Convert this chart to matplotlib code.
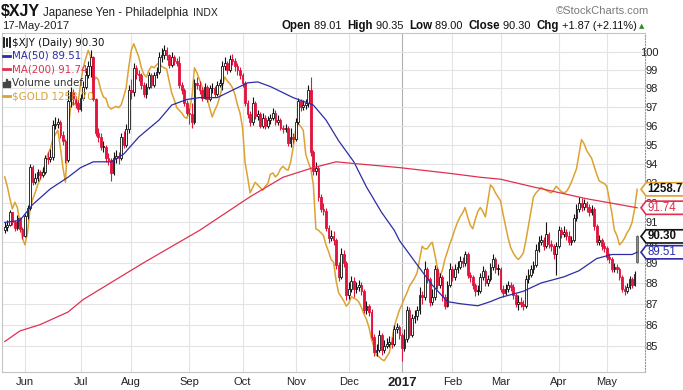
import numpy as np
import pandas as pd
import matplotlib
matplotlib.use("Agg")
import matplotlib.pyplot as plt
from matplotlib import font_manager
from matplotlib.patches import Polygon, Rectangle
from matplotlib.lines import Line2D
from matplotlib.ticker import FixedLocator, NullLocator

# ---- data -------------------------------------------------------------
holidays = ["2016-05-30", "2016-07-04", "2016-09-05", "2016-11-24", "2016-12-26",
            "2017-01-02", "2017-01-16", "2017-02-20", "2017-04-14"]
dates = pd.bdate_range("2016-05-19", "2017-05-17")
dates = dates[~dates.isin(pd.to_datetime(holidays))]

closes = [
    90.75, 90.85, 91.50, 91.00, 90.70, 91.20, 90.65, 90.30, 91.30, 91.75,
    93.85, 93.05, 93.25, 93.55, 93.40, 93.55, 94.30, 94.25, 94.35, 96.05,
    96.10, 96.20, 95.50, 95.20, 94.20, 97.30, 97.80, 97.40, 97.20, 96.90,
    97.50, 98.10, 98.70, 99.20, 99.70, 97.40, 95.60, 95.40, 94.90, 94.90,
    94.30, 94.20, 93.50, 94.30, 94.40, 94.30, 95.40, 95.00, 95.80, 97.90,
    97.80, 99.10, 98.80, 98.70, 98.20, 97.70, 98.10, 98.70, 98.20, 98.70,
    98.90, 99.70, 99.80, 100.10, 99.80, 99.30, 99.70, 99.50, 99.40, 98.20,
    97.90, 97.20, 96.70, 96.60, 96.20, 98.30, 98.20, 97.90, 97.50, 98.10,
    97.40, 98.00, 98.00, 97.70, 98.20, 98.30, 99.20, 99.40, 99.00, 99.60,
    99.50, 99.20, 99.00, 98.70, 98.30, 97.20, 96.60, 96.20, 97.20, 96.50,
    96.60, 96.00, 96.40, 96.00, 96.30, 96.40, 96.70, 96.20, 96.30, 95.90,
    95.80, 95.90, 95.10, 95.40, 95.30, 96.20, 97.30, 97.00, 97.10, 97.20,
    97.90, 94.60, 93.60, 93.80, 92.30, 91.70, 91.60, 90.70, 90.20, 90.30,
    90.10, 88.90, 88.30, 89.40, 89.00, 87.40, 87.70, 88.10, 87.70, 87.80,
    87.90, 87.60, 86.70, 86.90, 86.60, 85.40, 84.70, 84.80, 85.50, 84.80,
    85.00, 85.10, 85.20, 85.10, 85.80, 85.90, 85.50, 84.90, 85.30, 86.70,
    85.50, 86.30, 86.40, 86.70, 87.40, 87.30, 88.70, 88.20, 87.10, 87.30,
    88.70, 87.90, 88.30, 87.30, 86.90, 87.90, 88.70, 88.30, 88.70, 88.80,
    89.10, 89.00, 89.40, 88.40, 88.30, 87.90, 87.60, 87.60, 88.30, 88.60,
    88.00, 88.20, 88.80, 89.20, 88.70, 88.70, 87.70, 87.50, 87.70, 87.90,
    87.80, 87.40, 87.00, 87.10, 87.00, 86.90, 88.20, 88.40, 88.70, 88.90,
    89.60, 90.00, 90.10, 89.80, 90.40, 89.90, 89.80, 89.40, 89.80, 90.60,
    90.40, 90.50, 90.30, 90.00, 90.10, 91.20, 91.70, 92.00, 91.80, 92.00,
    91.80, 91.50, 91.70, 90.80, 90.00, 90.10, 89.80, 89.70, 89.30, 89.20,
    88.70, 88.80, 88.70, 88.30, 87.70, 87.60, 87.80, 88.20, 87.90, 88.43,
    90.30,
]
highs = [
    91.00, 91.10, 91.65, 91.55, 91.10, 91.35, 91.25, 90.75, 91.40, 91.90,
    94.00, 93.95, 93.50, 93.75, 93.70, 93.85, 94.45, 94.60, 94.75, 96.30,
    96.45, 96.40, 96.30, 95.70, 95.30, 97.90, 98.10, 97.95, 97.60, 97.35,
    97.70, 98.40, 99.10, 99.50, 100.10, 99.75, 97.50, 95.90, 95.60, 95.20,
    95.00, 94.55, 94.30, 94.60, 94.70, 94.60, 95.60, 95.70, 96.10, 98.20,
    98.50, 99.40, 99.30, 99.00, 98.85, 98.35, 98.30, 98.90, 98.85, 98.90,
    99.15, 100.00, 100.20, 100.40, 100.25, 99.90, 100.00, 99.85, 99.65, 99.75,
    98.35, 98.00, 97.35, 96.95, 97.20, 98.50, 98.60, 98.40, 98.05, 98.30,
    98.20, 98.20, 98.30, 98.15, 98.40, 98.50, 99.50, 99.70, 99.50, 99.80,
    99.90, 99.65, 99.40, 99.15, 98.85, 98.40, 97.35, 96.80, 97.55, 97.30,
    96.85, 96.75, 96.65, 96.55, 96.50, 96.60, 96.95, 96.85, 96.55, 96.40,
    96.05, 96.10, 96.00, 95.85, 95.60, 96.40, 97.50, 97.45, 97.35, 97.45,
    98.20, 98.60, 94.70, 94.10, 93.90, 92.45, 92.00, 91.75, 90.85, 90.60,
    90.55, 90.20, 89.05, 89.70, 89.60, 89.10, 88.05, 88.35, 88.30, 88.05,
    88.15, 88.05, 87.70, 87.15, 87.00, 86.75, 85.55, 85.10, 85.75, 85.60,
    85.25, 85.35, 85.45, 85.40, 86.00, 86.10, 86.00, 85.60, 85.80, 86.90,
    86.85, 86.50, 86.70, 86.90, 87.80, 87.60, 89.10, 88.80, 88.30, 87.70,
    88.90, 88.80, 88.50, 88.40, 87.45, 88.10, 89.00, 88.85, 88.95, 89.10,
    89.35, 89.30, 89.55, 89.50, 88.55, 88.40, 88.00, 87.90, 88.50, 88.85,
    88.70, 88.40, 89.00, 89.40, 89.30, 88.95, 88.80, 87.90, 87.95, 88.10,
    88.05, 87.95, 87.50, 87.40, 87.30, 87.20, 88.40, 88.70, 88.90, 89.10,
    89.90, 90.30, 90.35, 90.25, 91.00, 90.50, 90.10, 89.90, 90.00, 90.80,
    90.75, 90.80, 90.65, 90.55, 90.30, 91.40, 91.95, 92.30, 92.25, 92.20,
    92.10, 91.95, 91.90, 91.80, 90.90, 90.35, 90.20, 90.00, 89.80, 89.45,
    89.30, 89.00, 88.95, 88.80, 88.40, 87.90, 88.00, 88.35, 88.30, 88.60,
    90.35,
]
lows = [
    90.45, 90.55, 90.80, 90.85, 90.55, 90.60, 90.50, 90.15, 90.25, 91.15,
    91.65, 92.90, 92.95, 93.10, 93.20, 93.30, 93.45, 94.00, 94.10, 94.20,
    95.80, 95.85, 95.35, 95.00, 94.05, 94.10, 97.00, 97.10, 96.95, 96.75,
    96.80, 97.35, 97.95, 98.55, 98.60, 97.30, 95.45, 95.15, 94.70, 94.60,
    94.10, 93.95, 93.10, 93.40, 94.05, 94.00, 94.20, 94.80, 94.85, 95.60,
    97.40, 97.60, 98.50, 98.40, 97.95, 97.55, 97.50, 97.95, 98.00, 98.05,
    98.55, 98.80, 99.45, 99.60, 99.55, 99.10, 99.15, 99.30, 99.20, 98.00,
    97.70, 97.05, 96.55, 96.10, 95.90, 96.10, 97.95, 97.70, 97.30, 97.40,
    97.25, 97.30, 97.75, 97.55, 97.60, 98.05, 97.90, 99.00, 98.80, 98.90,
    99.25, 98.95, 98.75, 98.50, 98.10, 97.05, 96.40, 96.00, 96.05, 96.35,
    96.30, 95.85, 95.90, 95.80, 95.85, 96.10, 96.30, 96.05, 96.05, 95.75,
    95.60, 95.65, 94.95, 94.85, 95.10, 95.20, 96.10, 96.80, 96.85, 96.90,
    97.00, 94.40, 93.40, 93.40, 92.10, 91.50, 91.35, 90.55, 89.95, 90.05,
    89.85, 88.70, 88.10, 88.20, 88.80, 87.20, 87.25, 87.55, 87.30, 87.50,
    87.60, 87.40, 86.55, 86.50, 86.40, 85.25, 84.50, 84.50, 84.70, 84.55,
    84.65, 84.90, 84.95, 84.90, 85.00, 85.60, 85.30, 84.30, 84.75, 85.20,
    85.35, 85.40, 86.10, 86.20, 86.50, 87.00, 87.20, 88.00, 86.90, 86.95,
    87.20, 87.70, 87.75, 87.15, 86.75, 86.85, 87.80, 88.10, 88.15, 88.50,
    88.70, 88.80, 88.85, 88.25, 88.05, 87.70, 87.35, 87.40, 87.50, 88.15,
    87.85, 87.85, 88.10, 88.65, 88.50, 88.40, 87.55, 87.30, 87.40, 87.55,
    87.60, 87.25, 86.85, 86.70, 86.85, 86.70, 86.80, 88.00, 88.30, 88.50,
    88.80, 89.50, 89.85, 89.60, 89.70, 89.70, 89.55, 89.20, 88.40, 89.70,
    90.20, 90.25, 90.10, 89.85, 89.85, 90.00, 91.05, 91.55, 91.60, 91.65,
    91.55, 91.30, 91.35, 90.60, 89.85, 89.85, 89.60, 89.50, 89.15, 89.00,
    88.55, 88.55, 88.50, 88.15, 87.55, 87.40, 87.50, 87.70, 87.75, 87.85,
    89.00,
]
first_open = 90.60
last_open = 89.01

gold = [
    1268, 1261, 1252, 1244, 1249, 1245, 1234, 1222, 1217, 1226,
    1244, 1251, 1256, 1262, 1266, 1271, 1278, 1285, 1289, 1296,
    1300, 1303, 1290, 1275, 1264, 1301, 1320, 1324, 1322, 1324,
    1338, 1350, 1357, 1363, 1358, 1339, 1343, 1341, 1333, 1328,
    1327, 1321, 1319, 1320, 1321, 1320, 1322, 1328, 1335, 1350,
    1363, 1368, 1363, 1358, 1350, 1345, 1343, 1348, 1351, 1350,
    1352, 1354, 1351, 1350, 1349, 1340, 1331, 1326, 1320, 1318,
    1316, 1313, 1312, 1318, 1328, 1350, 1346, 1341, 1336, 1330,
    1327, 1320, 1313, 1318, 1322, 1328, 1336, 1343, 1340, 1338,
    1335, 1330, 1322, 1316, 1305, 1279, 1268, 1256, 1260, 1264,
    1262, 1260, 1258, 1261, 1263, 1270, 1271, 1268, 1270, 1274,
    1276, 1274, 1273, 1279, 1290, 1303, 1308, 1306, 1303, 1285,
    1279, 1274, 1262, 1229, 1228, 1226, 1224, 1217, 1212, 1206,
    1204, 1190, 1181, 1178, 1175, 1171, 1173, 1178, 1177, 1176,
    1174, 1170, 1165, 1161, 1155, 1146, 1140, 1134, 1133, 1131,
    1130, 1133, 1136, 1145, 1156, 1162, 1168, 1172, 1177, 1181,
    1186, 1189, 1192, 1196, 1206, 1216, 1214, 1214, 1217, 1219,
    1210, 1200, 1193, 1198, 1206, 1212, 1218, 1223, 1229, 1234,
    1238, 1241, 1245, 1238, 1232, 1229, 1236, 1242, 1245, 1242,
    1238, 1250, 1262, 1260, 1256, 1253, 1250, 1240, 1231, 1222,
    1215, 1211, 1208, 1206, 1208, 1211, 1220, 1231, 1242, 1253,
    1256, 1258, 1260, 1259, 1258, 1257, 1256, 1258, 1261, 1259,
    1257, 1256, 1257, 1260, 1264, 1269, 1274, 1285, 1296, 1293,
    1288, 1285, 1282, 1276, 1270, 1265, 1264, 1263, 1261, 1251,
    1241, 1228, 1224, 1217, 1219, 1222, 1226, 1229, 1234, 1244,
    1258.70,
]

# moving averages (trading-day index, value)
ma50_idx = [0, 6, 11, 18, 25, 30, 35, 42, 47, 53, 61, 66, 72, 77, 84, 90, 96, 100,
            105, 114, 122, 127, 132, 138, 143, 149, 154, 156, 163, 169, 175, 180,
            187, 192, 196, 205, 212, 221, 227, 234, 240, 248, 250]
ma50_val = [91.0, 91.1, 91.9, 92.7, 93.3, 93.8, 94.1, 94.1, 94.5, 95.4, 96.3, 97.1,
            97.4, 97.5, 97.5, 97.9, 98.3, 98.35, 98.1, 97.5, 97.1, 96.3, 95.2, 94.1,
            92.8, 91.5, 90.6, 90.1, 88.9, 87.9, 87.1, 87.0, 86.9, 87.1, 87.3, 87.6,
            88.0, 88.3, 88.6, 89.2, 89.4, 89.4, 89.51]
ma200_idx = [0, 6, 14, 25, 31, 55, 77, 97, 110, 122, 131, 139, 156, 176, 188, 196,
             209, 230, 250]
ma200_val = [85.2, 85.7, 86.0, 86.6, 87.2, 89.0, 90.6, 92.3, 93.3, 93.8, 94.1, 94.0,
             93.8, 93.5, 93.3, 93.2, 92.8, 92.2, 91.74]

# overlay scale of $GOLD onto the price axis: (gold price, axis value) anchors
gold_anchor_lo = (1130.0, 84.3)
gold_anchor_hi = (1366.0, 100.3)

# ---- style ------------------------------------------------------------
W, H = 683, 390
BLACK = "#111111"
RED = "#e0143c"
BLUE = "#2c2ca8"
MA200C = "#e03050"
GOLDC = "#dca232"
GRID = "#e3e3e3"


def pick_font(name, fallback):
    try:
        font_manager.findfont(name, fallback_to_default=False)
        return name
    except Exception:
        return fallback


NARROW = pick_font("Liberation Sans Narrow", "Liberation Sans")

closes = np.array(closes)
highs = np.array(highs)
lows = np.array(lows)
opens = np.r_[first_open, closes[:-1]]
opens[-1] = last_open
highs = np.maximum(highs, np.maximum(opens, closes))
lows = np.minimum(lows, np.minimum(opens, closes))
x = np.arange(len(closes))

# gold mapped on the log price axis
g = np.array(gold)
b = (np.log(gold_anchor_hi[1]) - np.log(gold_anchor_lo[1])) / (gold_anchor_hi[0] - gold_anchor_lo[0])
gold_y = np.exp(np.log(gold_anchor_lo[1]) + b * (g - gold_anchor_lo[0]))

fig = plt.figure(figsize=(W / 100, H / 100), dpi=100)
ax = fig.add_axes([1.7 / W, 18.3 / H, 643.3 / W, 338.4 / H])
ax.set_yscale("log")
ax.set_ylim(83.79, 101.03)
ax.set_xlim(-1.2, 253.1)

# grid
ax.yaxis.set_major_locator(FixedLocator(list(range(85, 101))))
ax.yaxis.set_minor_locator(NullLocator())
ax.yaxis.set_major_formatter(plt.FuncFormatter(lambda v, p: "%d" % v))
ax.yaxis.tick_right()
ax.tick_params(axis="y", length=0, pad=9.5, labelsize=8, labelcolor="#222222")
for lab in ax.get_yticklabels():
    lab.set_horizontalalignment("right")
    lab.set_fontfamily(NARROW)
ax.grid(axis="y", color=GRID, lw=0.8)

month_pos = []
month_lab = []
for i in range(1, len(dates)):
    if dates[i].month != dates[i - 1].month:
        month_pos.append(i)
        month_lab.append(str(dates[i].year) if dates[i].month == 1 else dates[i].strftime("%b"))
ax.set_xticks(month_pos)
ax.set_xticklabels(month_lab, fontsize=8, color="#222222", fontfamily=NARROW)
ax.tick_params(axis="x", length=0, pad=4)
for lab in ax.get_xticklabels():
    if lab.get_text().isdigit():
        lab.set_fontweight("bold")
        lab.set_fontsize(9.5)
for p, l in zip(month_pos, month_lab):
    ax.axvline(p, color="#b0b0b0" if l.isdigit() else GRID, lw=0.8, zorder=0.5)

for s in ax.spines.values():
    s.set_color("#c4c4c4")
    s.set_linewidth(0.8)
ax.spines["right"].set_linestyle(":")
ax.spines["right"].set_color("#999999")

# gold overlay
ax.plot(x, gold_y, color=GOLDC, lw=1.1, zorder=2)

# candles
prev = np.r_[opens[0], closes[:-1]]
colors = np.where(closes < prev, RED, BLACK).tolist()
colors[-1] = "#5e5e5e"
ax.vlines(x, lows, highs, colors=colors, lw=0.8, zorder=3)
body_lo = np.minimum(opens, closes)
body_h = np.maximum(np.abs(closes - opens), 0.04)
faces = [("white" if c > o else col) for o, c, col in zip(opens, closes, colors)]
faces[-1] = "#8c8c8c"
ax.bar(x, body_h, bottom=body_lo, width=0.68, color=faces, edgecolor=colors,
       linewidth=0.6, zorder=3.5)

# moving averages
ax.plot(ma50_idx, ma50_val, color=BLUE, lw=0.9, zorder=4)
ax.plot(ma200_idx, ma200_val, color=MA200C, lw=0.9, zorder=4)


# ---- text helpers in pixel coords (origin top-left) -------------------
def fx(px):
    return px / W


def fy(py):
    return 1 - py / H


fig.canvas.draw()
renderer = fig.canvas.get_renderer()


def put(px, py, s, **kw):
    t = fig.text(fx(px), fy(py), s, va="center", ha="left", **kw)
    bb = t.get_window_extent(renderer)
    return bb.x1, t


# header
end, _ = put(1, 12, "$XJY", fontsize=11.5, fontweight="bold", color=BLACK, fontfamily=NARROW)
end, _ = put(end + 3, 13, "Japanese Yen - Philadelphia", fontsize=8.3, color="#222222",
             fontfamily=NARROW)
put(end + 5, 13, "INDX", fontsize=7.5, color="#222222", fontfamily=NARROW)
fig.text(fx(649), fy(11), "\u00a9StockCharts.com", ha="right", va="center",
         fontsize=8, color="#7a7a7a", fontfamily=NARROW)
put(2, 26, "17-May-2017", fontsize=8.2, color="#222222", fontfamily=NARROW)

pieces = [("Open", True), (" 89.01  ", False), ("High", True), (" 90.35  ", False),
          ("Low", True), (" 89.00  ", False), ("Close", True), (" 90.30  ", False),
          ("Chg", True), (" +1.87 (+2.11%)", False)]
# lay the quote line out, then slide it so that it ends at the right edge
xx = 0
drawn = []
for s, bold in pieces:
    start = xx
    xx, t = put(xx, 26, s, fontsize=8.3 if bold else 7.9,
                fontweight="bold" if bold else "normal", color="#111111", fontfamily=NARROW)
    drawn.append((t, start))
shift = 637 - xx
for t, start in drawn:
    t.set_x(fx(start + shift))
put(639, 26, "\u25b2", fontsize=5, color="#2e8b2e")

# legend block
leg = [("$XJY (Daily) 90.30", BLACK), ("MA(50) 89.51", BLUE), ("MA(200) 91.74", MA200C),
       ("Volume undef", "#333333"), ("$GOLD 1258.70", GOLDC)]
for k, (s, c) in enumerate(leg):
    yy = 42.5 + k * 13.4
    put(12, yy, s, fontsize=7.4, color=c, fontfamily="DejaVu Sans")
for k, c in [(1, BLUE), (2, MA200C), (4, GOLDC)]:
    yy = 42.5 + k * 13.4
    fig.add_artist(Line2D([fx(3), fx(10)], [fy(yy), fy(yy)], color=c, lw=2.0))
# candle icon and volume icon
for dx, top, bot in [(3.5, 37.5, 47), (6.5, 39, 46), (9.5, 37.5, 46.5)]:
    fig.add_artist(Line2D([fx(dx), fx(dx)], [fy(top), fy(bot)], color=BLACK, lw=1.3))
for dx, hgt in [(3, 5), (5.5, 8), (8, 6)]:
    fig.add_artist(Rectangle((fx(dx), fy(42.5 + 3 * 13.4 + 4)), 1.6 / W, hgt / H,
                             transform=fig.transFigure, color="#444444"))


# price tags at the right edge
def tag(yv, s, edge, tcol, bold):
    ypx = ax.transData.transform((0, yv))[1]
    x0, x1, hh = 641, 700, 6.6
    pts = [(x0, ypx), (x0 + 5, ypx + hh), (x1, ypx + hh), (x1, ypx - hh), (x0 + 5, ypx - hh)]
    fig.add_artist(Polygon([(px / W, py / H) for px, py in pts], closed=True,
                           transform=fig.transFigure, facecolor="white",
                           edgecolor=edge, lw=1.2, zorder=10))
    fig.text(fx(647.5), ypx / H, s, ha="left", va="center", fontsize=8.3,
             fontweight="bold" if bold else "normal", color=tcol,
             fontfamily=NARROW, zorder=11)


tag(gold_y[-1], "%.2f" % gold[-1], GOLDC, BLACK, True)
tag(ma200_val[-1], "%.2f" % ma200_val[-1], MA200C, MA200C, False)
tag(closes[-1], "%.2f" % closes[-1], BLACK, BLACK, True)
tag(ma50_val[-1], "%.2f" % ma50_val[-1], BLUE, BLUE, False)

fig.savefig("out.png", dpi=100)
